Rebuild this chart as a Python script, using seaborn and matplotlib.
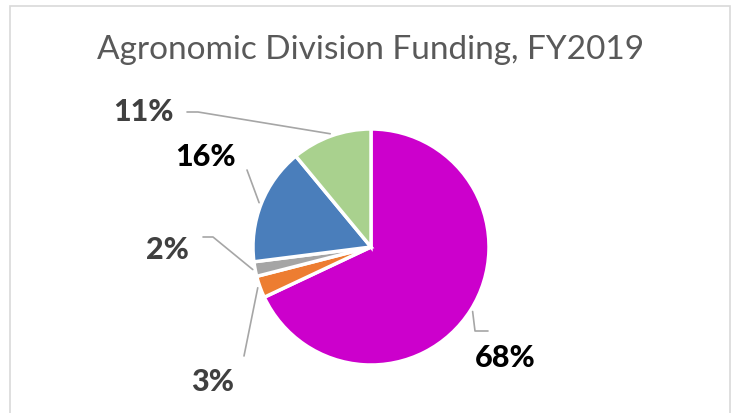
import matplotlib
matplotlib.use('Agg')
import matplotlib.pyplot as plt
import matplotlib.patches as mpatches
import numpy as np
import seaborn as sns

sns.set_theme(style='white')
plt.rcParams['font.family'] = ['Lato', 'DejaVu Sans']

# Data
categories = ['A', 'B', 'C', 'D', 'E']
shares = [68, 3, 2, 16, 11]
colors = ['#CC00CC', '#ED7D31', '#A5A5A5', '#4A7EBB', '#A9D18E']
label_colors = ['#000000', '#404040', '#404040', '#000000', '#404040']

W, H = 731, 413
CX, CY, R = 371, H - 247, 118

# label text centre and leader path points after the wedge end (pixel coords, y from top)
label_pos = [(505, 358), (213, 382), (167, 250), (205, 157), (143, 112)]
leader_pts = [
    [(475, 331), (488, 331)],
    [(244, 356)],
    [(213, 237), (203, 237)],
    [(247, 170)],
    [(198, 112), (187, 112)],
]

fig = plt.figure(figsize=(W / 100, H / 100), dpi=100)
ax = fig.add_axes([0, 0, 1, 1])

wedges, _ = ax.pie(shares, colors=colors, startangle=90, counterclock=False,
                   center=(CX, CY), radius=R,
                   wedgeprops=dict(edgecolor='white', linewidth=2.5))
ax.set_xlim(0, W)
ax.set_ylim(0, H)
ax.set_aspect('equal')
ax.axis('off')

# chart border
ax.add_patch(mpatches.Rectangle((10, -5), 720, H - 6 + 5, fill=False,
                                edgecolor='#D9D9D9', linewidth=1.2))

ax.text(371, H - 50, 'Agronomic Division Funding, FY2019', ha='center', va='center',
        fontsize=24, color='#595959')

for w, val, pos, pts, lc in zip(wedges, shares, label_pos, leader_pts, label_colors):
    mid = np.deg2rad((w.theta1 + w.theta2) / 2)
    xs = [CX + R * 1.02 * np.cos(mid)] + [p[0] for p in pts]
    ys = [CY + R * 1.02 * np.sin(mid)] + [H - p[1] for p in pts]
    ax.plot(xs, ys, color='#A6A6A6', lw=1.2)
    ax.text(pos[0], H - pos[1], f'{val}%', ha='center', va='center',
            fontsize=22, fontweight='black', color=lc)

fig.savefig('out.png', dpi=100)
